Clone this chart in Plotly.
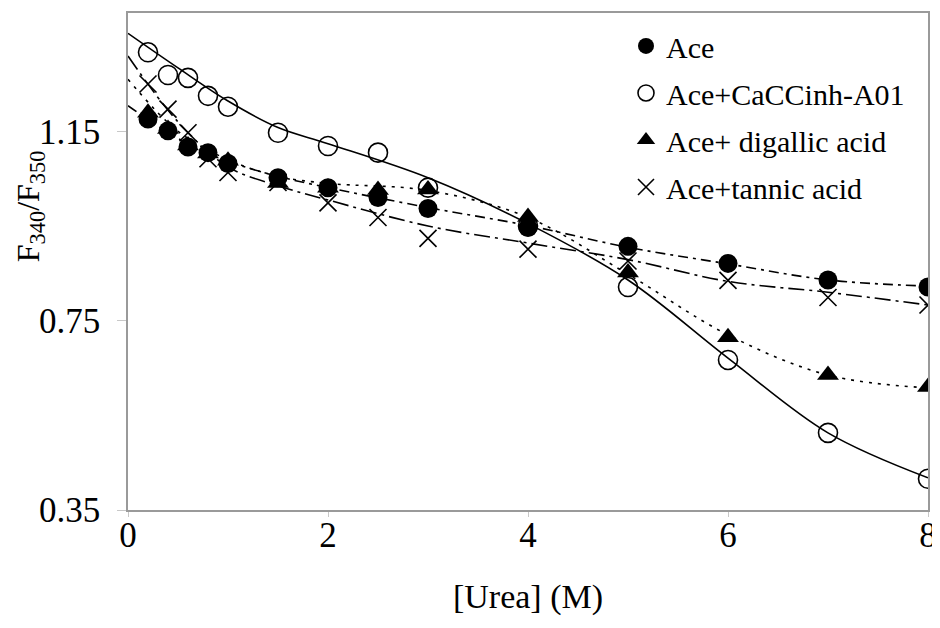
import plotly.graph_objects as go

# ---- data ----
urea = [0.2, 0.4, 0.6, 0.8, 1.0, 1.5, 2, 2.5, 3, 4, 5, 6, 7, 8]
ace = [1.176, 1.151, 1.117, 1.105, 1.082, 1.052, 1.031, 1.010, 0.987, 0.947, 0.907, 0.871, 0.836, 0.821]
ace_cacc = [1.317, 1.269, 1.263, 1.225, 1.202, 1.147, 1.119, 1.105, 1.031, 0.950, 0.821, 0.667, 0.513, 0.416]
ace_digallic = [1.189, 1.155, 1.120, 1.103, 1.088, 1.041, 1.031, 1.026, 1.027, 0.969, 0.852, 0.715, 0.635, 0.610]
ace_tannic = [1.250, 1.197, 1.147, 1.092, 1.063, 1.042, 0.999, 0.968, 0.924, 0.901, 0.876, 0.835, 0.799, 0.783]

# trend (fit) curves as drawn in the reference
fit_x = [0, 0.5, 1, 1.5, 2, 3, 4, 5, 6, 7, 8]
ace_fit = [1.204, 1.135, 1.087, 1.055, 1.031, 0.989, 0.951, 0.905, 0.870, 0.836, 0.823]
cacc_fit = [1.357, 1.284, 1.214, 1.158, 1.124, 1.052, 0.955, 0.836, 0.671, 0.513, 0.418]
digallic_fit = [1.26, 1.15, 1.09, 1.055, 1.04, 1.025, 0.968, 0.848, 0.720, 0.635, 0.608]
tannic_fit = [1.309, 1.17, 1.075, 1.035, 1.005, 0.950, 0.914, 0.879, 0.833, 0.810, 0.783]

names = ["Ace", "Ace+CaCCinh-A01", "Ace+ digallic acid", "Ace+tannic acid"]
x_ticks = [0, 2, 4, 6, 8]
y_ticks = [0.35, 0.75, 1.15]

FONT = "Liberation Serif, Times New Roman, serif"

fig = go.Figure()

# fit lines (no legend)
fits = [
    (ace_fit, "10px,5px,3px,5px"),
    (cacc_fit, "solid"),
    (digallic_fit, "3px,6px"),
    (tannic_fit, "16px,5px,3px,5px"),
]
for yv, dash in fits:
    fig.add_trace(go.Scatter(
        x=fit_x, y=yv, mode="lines", showlegend=False, hoverinfo="skip",
        line=dict(color="black", width=1.6, dash=dash, shape="spline", smoothing=1.0),
    ))

# markers (legend)
markers = [
    (ace, dict(symbol="circle", size=19, color="black")),
    (ace_cacc, dict(symbol="circle-open", size=19, color="black", line=dict(width=1.6, color="black"))),
    (ace_digallic, dict(symbol="triangle-up", size=19, color="black")),
    (ace_tannic, dict(symbol="x-thin", size=17, color="black", line=dict(width=1.6, color="black"))),
]
for i, (yv, mk) in enumerate(markers):
    fig.add_trace(go.Scatter(
        x=urea, y=yv, mode="markers", name=names[i], marker=mk,
        legendgroup=f"g{i}",
    ))

axis_common = dict(
    showline=True, linecolor="#9a9a9a", linewidth=1.5, mirror=True,
    showgrid=False, zeroline=False, ticks="outside",
    tickcolor="#c8c8c8", tickwidth=1,
    tickfont=dict(family=FONT, size=35, color="black"),
)

fig.update_layout(
    width=940, height=628,
    margin=dict(l=120, r=20, t=3, b=126),
    paper_bgcolor="white", plot_bgcolor="white",
    font=dict(family=FONT, color="black"),
    xaxis=dict(range=[0, 8], tickvals=x_ticks, ticktext=[str(v) for v in x_ticks],
               ticklen=5, ticklabelstandoff=-12,
               title=dict(text="[Urea] (M)", font=dict(family=FONT, size=34), standoff=30),
               **axis_common),
    yaxis=dict(range=[0.35, 1.4], tickvals=y_ticks, ticktext=[f"{v:.2f}" for v in y_ticks],
               ticklen=9, ticklabelstandoff=10,
               **axis_common),
    legend=dict(x=0.6225, y=0.986, xanchor="left", yanchor="top",
                font=dict(family=FONT, size=30, color="black"),
                bgcolor="rgba(0,0,0,0)", traceorder="grouped", tracegroupgap=5),
    showlegend=True,
)

fig.add_annotation(
    text="F<sub>340</sub>/F<sub>350</sub>", textangle=-90,
    xref="paper", yref="paper", x=(30 - 128) / 800, y=(510 - 205) / 499,
    showarrow=False, font=dict(family=FONT, size=32, color="black"),
    xanchor="center", yanchor="middle",
)

fig.write_html("out.html")
